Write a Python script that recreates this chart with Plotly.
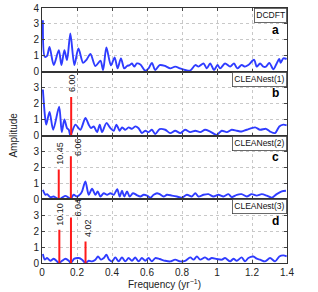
import plotly.graph_objects as go
from plotly.subplots import make_subplots

# ---------------- data ----------------
freq_a = [0.005,0.016,0.029,0.043,0.067,0.096,0.111,0.128,0.143,0.162,0.185,0.208,0.235,0.254,0.277,0.305,0.334,0.349,0.368,0.394,0.415,0.432,0.451,0.470,0.486,0.501,0.514,0.527,0.542,0.562,0.590,0.609,0.628,0.647,0.672,
          0.704,0.733,0.761,0.790,0.818,0.847,0.876,0.894,0.923,0.942,0.961,0.983,1.003,1.018,1.046,1.075,1.097,1.116,1.141,1.160,1.179,1.212,1.227,1.246,1.265,1.280,1.299,1.322,1.341,1.356,1.364,1.379,1.398]
amp_a = [3.23,0.94,1.00,1.56,0.42,1.36,0.42,1.36,0.73,2.40,0.42,1.46,0.56,0.75,1.11,0.36,0.69,0.11,1.52,0.40,0.90,0.21,0.84,0.21,0.36,0.42,0.52,0.32,0.52,0.46,0.07,0.21,0.56,0.11,0.42,
         0.36,0.21,0.32,0.21,0.11,0.07,0.42,0.32,0.52,0.21,0.52,0.11,0.42,0.21,0.52,0.32,0.52,0.21,0.42,0.32,0.42,0.75,0.32,0.52,0.32,0.32,0.56,0.15,0.52,0.80,0.56,0.84,0.80]

freq_b = [0.005,0.016,0.024,0.043,0.064,0.098,0.113,0.128,0.143,0.153,0.162,0.191,0.219,0.248,0.267,0.280,0.296,0.315,0.330,0.343,0.368,0.391,0.410,0.425,0.444,0.457,0.476,0.495,0.514,0.533,0.552,0.571,0.590,0.609,0.628,0.647,0.672,
          0.704,0.733,0.761,0.790,0.818,0.847,0.876,0.904,0.932,0.961,0.999,1.027,1.056,1.084,1.113,1.141,1.170,1.218,1.246,1.280,1.303,1.332,1.356,1.379,1.398]
amp_b = [2.89,1.31,0.68,1.48,0.36,1.80,0.21,1.00,0.46,0.36,0.00,0.68,0.36,1.10,0.68,0.46,0.57,0.21,0.68,0.21,0.78,0.46,0.30,0.68,0.30,0.51,0.36,0.51,0.42,0.57,0.46,0.15,0.30,0.21,0.36,0.09,0.40,
         0.36,0.15,0.30,0.15,0.36,0.21,0.30,0.21,0.36,0.25,0.04,0.30,0.21,0.36,0.30,0.25,0.36,0.51,0.36,0.42,0.25,0.15,0.57,0.68,0.64]

freq_c = [0.005,0.020,0.029,0.048,0.067,0.086,0.098,0.115,0.134,0.153,0.162,0.181,0.200,0.219,0.229,0.248,0.267,0.286,0.305,0.318,0.334,0.353,0.372,0.391,0.410,0.430,0.444,0.457,0.470,0.486,0.501,0.520,0.539,0.562,0.581,0.600,0.619,0.638,0.657,0.672,
          0.695,0.714,0.742,0.771,0.799,0.828,0.856,0.876,0.894,0.923,0.951,0.980,1.008,1.037,1.065,1.084,1.113,1.141,1.170,1.198,1.227,1.256,1.284,1.313,1.341,1.370,1.394]
amp_c = [0.59,0.28,0.32,0.13,0.17,0.06,0.00,0.10,0.21,0.10,0.00,0.28,0.17,0.32,0.49,1.12,0.28,0.66,0.28,0.49,0.17,0.38,0.28,0.38,0.28,0.63,0.17,0.53,0.17,0.49,0.17,0.38,0.28,0.17,0.28,0.23,0.10,0.28,0.38,0.32,
         0.17,0.28,0.23,0.17,0.10,0.28,0.17,0.38,0.17,0.28,0.32,0.17,0.28,0.17,0.32,0.13,0.28,0.32,0.17,0.32,0.23,0.32,0.23,0.10,0.32,0.49,0.53]

freq_d = [0.005,0.016,0.029,0.048,0.067,0.086,0.098,0.115,0.134,0.153,0.164,0.185,0.210,0.229,0.248,0.267,0.286,0.305,0.320,0.337,0.353,0.368,0.383,0.400,0.419,0.438,0.457,0.476,0.495,0.514,0.533,0.552,0.571,0.590,0.609,0.628,0.647,0.672,
          0.704,0.733,0.761,0.790,0.818,0.847,0.866,0.885,0.904,0.932,0.951,0.970,0.999,1.027,1.046,1.075,1.094,1.113,1.141,1.160,1.179,1.208,1.227,1.246,1.275,1.303,1.332,1.356,1.379,1.398]
amp_d = [0.56,0.21,0.31,0.14,0.27,0.10,0.00,0.14,0.27,0.14,0.00,0.27,0.31,0.21,0.00,0.14,0.10,0.21,0.41,0.21,0.31,0.52,0.21,0.10,0.35,0.10,0.35,0.10,0.31,0.14,0.35,0.10,0.31,0.14,0.31,0.10,0.31,0.25,
         0.14,0.10,0.21,0.10,0.14,0.35,0.21,0.41,0.21,0.35,0.21,0.31,0.25,0.21,0.31,0.10,0.27,0.14,0.35,0.10,0.31,0.41,0.27,0.21,0.10,0.31,0.10,0.41,0.48,0.41]

# CLEANest components: periods (yr) and amplitudes
periods_b = [6.00]
heights_b = [2.42]
periods_c = [10.45, 6.06]
heights_c = [1.87, 2.70]
periods_d = [10.10, 6.04, 4.02]
heights_d = [2.08, 2.85, 1.35]

panel_names = ["DCDFT", "CLEANest(1)", "CLEANest(2)", "CLEANest(3)"]
panel_letters = ["a", "b", "c", "d"]
xtick_vals = [0, 0.2, 0.4, 0.6, 0.8, 1.0, 1.2, 1.4]
xtick_text = ["0", "0.2", "0.4", "0.6", "0.8", "1", "1.2", "1.4"]

# ---------------- style ----------------
BLUE = "#2f3cff"
RED = "#ff1a1a"
FONT = "Liberation Sans"
# label offsets (pixels) for the period labels: (xshift, yshift) per spike
label_offsets = [[], [(1, 3)], [(1, 3), (7, -2)], [(1, 2), (7, -1), (3, 2)]]

fig = make_subplots(rows=4, cols=1, shared_xaxes=True, vertical_spacing=0)

curves = [(freq_a, amp_a), (freq_b, amp_b), (freq_c, amp_c), (freq_d, amp_d)]
spikes = [([], []), (periods_b, heights_b), (periods_c, heights_c), (periods_d, heights_d)]

annotations = []
for i, ((fx, fy), (per, hts)) in enumerate(zip(curves, spikes)):
    row = i + 1
    fig.add_trace(go.Scatter(x=fx, y=fy, mode="lines",
                             line=dict(color=BLUE, width=1.9, shape="spline", smoothing=0.8),
                             showlegend=False, hoverinfo="skip"), row=row, col=1)
    xr = "x" if row == 1 else f"x{row}"
    yr = "y" if row == 1 else f"y{row}"
    for (p, h), (dx, dy) in zip(zip(per, hts), label_offsets[i]):
        f = 1.0 / p
        fig.add_trace(go.Scatter(x=[f, f], y=[0, h], mode="lines",
                                 line=dict(color=RED, width=2),
                                 showlegend=False, hoverinfo="skip"), row=row, col=1)
        annotations.append(dict(x=f, y=h, xref=xr, yref=yr, text=f"{p:.2f}",
                                textangle=-90, showarrow=False, xanchor="center",
                                yanchor="bottom", xshift=dx, yshift=dy,
                                font=dict(family=FONT, size=9, color="#222")))
    dom = "x domain" if row == 1 else f"x{row} domain"
    ydom = "y domain" if row == 1 else f"y{row} domain"
    annotations.append(dict(x=1, y=1, xref=dom, yref=ydom, text=panel_names[i],
                            showarrow=False, xanchor="right", yanchor="top",
                            bordercolor="#444", borderwidth=0.8, borderpad=1.5, bgcolor="white",
                            font=dict(family=FONT, size=8.5, color="#111")))
    annotations.append(dict(x=0.975, y=0.66, xref=dom, yref=ydom, text=f"<b>{panel_letters[i]}</b>",
                            showarrow=False, xanchor="right", yanchor="middle",
                            font=dict(family=FONT, size=12, color="#000")))

for row in range(1, 5):
    tv = [0, 1, 2, 3, 4] if row == 1 else [0, 1, 2, 3]
    fig.update_yaxes(range=[0, 4], tickvals=tv, ticks="inside", ticklen=3,
                     showline=True, linecolor="#333", linewidth=1, mirror="ticks",
                     showgrid=True, gridcolor="#c8c8c8", griddash="dot", gridwidth=1,
                     zeroline=False, automargin=False,
                     tickfont=dict(family=FONT, size=10, color="#222"),
                     row=row, col=1)
    fig.update_xaxes(range=[0, 1.4], tickvals=xtick_vals, ticktext=xtick_text,
                     ticks="inside", ticklen=3,
                     showline=True, linecolor="#333", linewidth=1, mirror="ticks",
                     showgrid=True, gridcolor="#c8c8c8", griddash="dot", gridwidth=1,
                     zeroline=False, showticklabels=(row == 4), automargin=False,
                     tickfont=dict(family=FONT, size=10, color="#222"),
                     row=row, col=1)

PLOT_H = 292 - 8 - 29
annotations.append(dict(x=0.5, y=-21.0 / PLOT_H, xref="paper", yref="paper",
                        text="Frequency (yr<sup>−1</sup>)",
                        showarrow=False, xanchor="center", yanchor="middle",
                        font=dict(family=FONT, size=10, color="#222")))
annotations.append(dict(x=-0.118, y=0.5, xref="paper", yref="paper", text="Amplitude",
                        textangle=-90, showarrow=False, xanchor="center", yanchor="middle",
                        font=dict(family=FONT, size=10, color="#222")))

fig.update_layout(width=318, height=292,
                  margin=dict(l=41.5, r=31, t=8, b=29, autoexpand=False),
                  paper_bgcolor="white", plot_bgcolor="white",
                  annotations=annotations,
                  font=dict(family=FONT))

fig.write_html("out.html", config={"displayModeBar": False},
               post_script="document.body.style.margin='0px';document.body.style.overflow='hidden';")
